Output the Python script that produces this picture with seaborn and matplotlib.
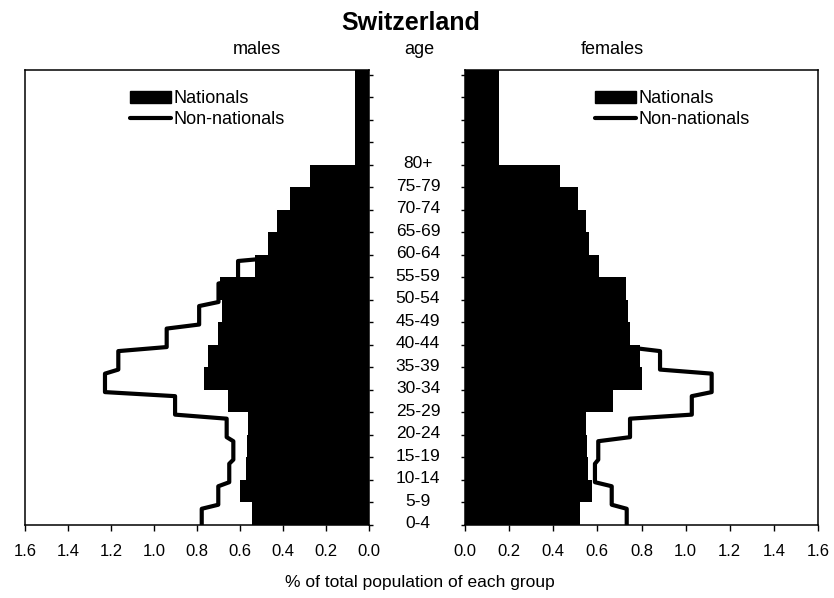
import numpy as np
import pandas as pd
import matplotlib
matplotlib.use("Agg")
import matplotlib.pyplot as plt
import matplotlib.transforms as mtransforms
from matplotlib.patches import Patch
from matplotlib.lines import Line2D
import seaborn as sns

sns.set_style("ticks")
plt.rcParams["font.family"] = ["Liberation Sans", "DejaVu Sans"]
plt.rcParams["axes.linewidth"] = 1.1
plt.rcParams["text.color"] = "black"
plt.rcParams["axes.labelcolor"] = "black"
plt.rcParams["xtick.color"] = "black"
plt.rcParams["ytick.color"] = "black"

# Age groups, youngest first
age_groups = ["0-4", "5-9", "10-14", "15-19", "20-24", "25-29", "30-34", "35-39",
              "40-44", "45-49", "50-54", "55-59", "60-64", "65-69", "70-74",
              "75-79", "80+"]

# % of total population of each group
male_nationals = [0.546, 0.600, 0.574, 0.569, 0.561, 0.657, 0.767, 0.747, 0.701,
                  0.685, 0.693, 0.530, 0.470, 0.430, 0.367, 0.274, 0.065]
male_non_nationals = [0.778, 0.701, 0.650, 0.631, 0.662, 0.902, 1.228, 1.166, 0.941,
                      0.790, 0.700, 0.609, 0.400, 0.280, 0.180, 0.100, 0.050]
female_nationals = [0.521, 0.574, 0.559, 0.552, 0.549, 0.672, 0.801, 0.793, 0.748,
                    0.740, 0.728, 0.609, 0.564, 0.549, 0.514, 0.431, 0.156]
female_non_nationals = [0.733, 0.665, 0.589, 0.604, 0.748, 1.028, 1.118, 0.884, 0.730,
                        0.600, 0.500, 0.400, 0.300, 0.200, 0.100, 0.070, 0.045]

x_ticks = [0.0, 0.2, 0.4, 0.6, 0.8, 1.0, 1.2, 1.4, 1.6]

Y_TOP = 20.2
n = len(age_groups)
edges = list(range(n)) + [Y_TOP]
mids = [(edges[i] + edges[i + 1]) / 2 for i in range(n)]


def step_path(values):
    """Stepped outline with short slanted risers between age groups."""
    xs, ys = [], []
    for i, v in enumerate(values):
        lo = 0.0 if i == 0 else i - 0.1
        hi = Y_TOP + 1 if i == len(values) - 1 else i + 0.72
        xs += [v, v]
        ys += [lo, hi]
    return pd.DataFrame({"x": xs, "y": ys})


fig = plt.figure(figsize=(8.34, 5.98), dpi=100)
axL = fig.add_axes([25 / 834, 73 / 598, 344 / 834, 455 / 598])
axR = fig.add_axes([465 / 834, 73 / 598, 353 / 834, 455 / 598])

for ax, nat, non in [(axL, male_nationals, male_non_nationals),
                     (axR, female_nationals, female_non_nationals)]:
    df = pd.DataFrame({"y": mids, "w": nat})
    sns.histplot(data=df, y="y", weights="w", bins=edges, element="step",
                 fill=True, color="black", alpha=1, linewidth=0, ax=ax)
    line = step_path(non)
    sns.lineplot(data=line, x="x", y="y", sort=False, estimator=None,
                 color="black", linewidth=3.0, ax=ax)
    ax.set_ylim(0, Y_TOP)
    ax.set_yticks(range(0, 21))
    ax.set_yticklabels([])
    ax.set_xticks(x_ticks)
    ax.set_xticklabels([f"{t:.1f}" for t in x_ticks], fontsize=12)
    ax.set_xlabel("")
    ax.set_ylabel("")
    ax.tick_params(axis="x", direction="out", length=4, width=1, pad=10,
                   colors="black", labelcolor="black")
    ax.tick_params(axis="y", direction="out", length=3, width=1, colors="black")
    for s in ax.spines.values():
        s.set_visible(True)
        s.set_color("black")

axL.set_xlim(1.6, 0)
axL.yaxis.tick_right()
axR.set_xlim(0, 1.6)
axR.yaxis.tick_left()

# Legends
handles = [Patch(facecolor="black", edgecolor="black"),
           Line2D([0], [0], color="black", linewidth=3)]
labels = ["Nationals", "Non-nationals"]
for ax, xa in [(axL, 0.305), (axR, 0.368)]:
    ax.legend(handles, labels, loc="upper left", bbox_to_anchor=(xa, 0.955),
              frameon=False, fontsize=13, borderpad=0, borderaxespad=0,
              handlelength=2.3, handletextpad=0.1, labelspacing=0.2,
              labelcolor="black")

# Age labels between the panels
trans = mtransforms.blended_transform_factory(fig.transFigure, axL.transData)
for i, lab in enumerate(age_groups):
    fig.text(418 / 834, i + 0.05, lab, transform=trans, ha="center", va="center",
             fontsize=12.5, color="black")

# Titles and headers
fig.text(411 / 834, 1 - 23 / 598, "Switzerland", ha="center", va="center",
         fontsize=18, fontweight="bold", color="black")
fig.text(257 / 834, 1 - 50 / 598, "males", ha="center", va="center", fontsize=13)
fig.text(419 / 834, 1 - 50 / 598, "age", ha="center", va="center", fontsize=13)
fig.text(612 / 834, 1 - 50 / 598, "females", ha="center", va="center", fontsize=13)
fig.text(420 / 834, 1 - 582 / 598, "% of total population of each group",
         ha="center", va="center", fontsize=12.5)

fig.savefig("out.png", dpi=100, facecolor="white")
